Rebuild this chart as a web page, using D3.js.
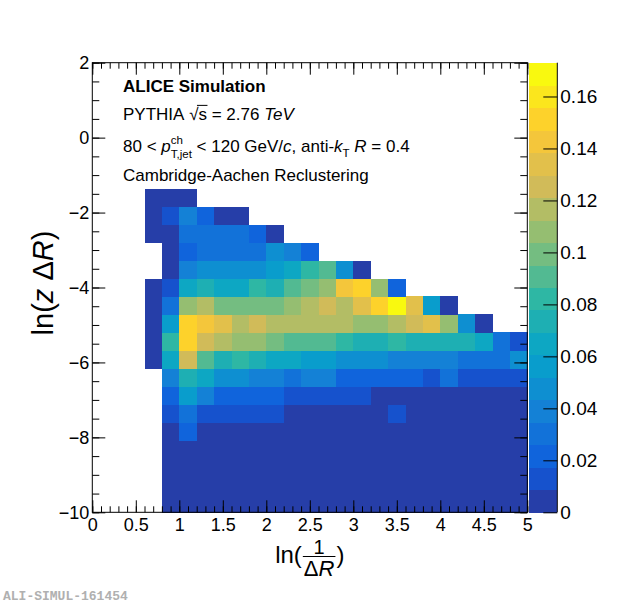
<!DOCTYPE html>
<html><head><meta charset="utf-8">
<script src="https://cdn.jsdelivr.net/npm/d3@7"></script>
<style>
html,body{margin:0;padding:0;background:#fff;}
svg{display:block;font-family:"Liberation Sans",Arial,Helvetica,sans-serif;}
</style></head><body>
<svg id="chart" width="620" height="603"></svg>
<script>
// ---------------- data ----------------
// bin edges of the 25 x 25 histogram
const xEdges = [0,0.2,0.4,0.6,0.8,1.0,1.2,1.4,1.6,1.8,2.0,2.2,2.4,2.6,2.8,3.0,3.2,3.4,3.6,3.8,4.0,4.2,4.4,4.6,4.8,5.0];
const yEdges = [-10,-9.52,-9.04,-8.56,-8.08,-7.6,-7.12,-6.64,-6.16,-5.68,-5.2,-4.72,-4.24,-3.76,-3.28,-2.8,-2.32,-1.84,-1.36,-0.88,-0.4,0.08,0.56,1.04,1.52,2.0];
// bin contents, one row per y bin (bottom row first), 25 x bins per row; 0 = empty
const binContent = [
 [0,0,0,0,.004,.004,.004,.004,.004,.004,.004,.004,.004,.004,.004,.004,.004,.004,.004,.004,.004,.004,.004,.004,.004],
 [0,0,0,0,.004,.004,.004,.004,.004,.004,.004,.004,.004,.004,.004,.004,.004,.004,.004,.004,.004,.004,.004,.004,.004],
 [0,0,0,0,.004,.004,.004,.004,.004,.004,.004,.004,.004,.004,.004,.004,.004,.004,.004,.004,.004,.004,.004,.004,.004],
 [0,0,0,0,.004,.004,.004,.004,.004,.004,.004,.004,.004,.004,.004,.004,.004,.004,.004,.004,.004,.004,.004,.004,.004],
 [0,0,0,0,.004,.022,.004,.004,.004,.004,.004,.004,.004,.004,.004,.004,.004,.004,.004,.004,.004,.004,.004,.004,.004],
 [0,0,0,0,.013,.030,.013,.013,.013,.013,.013,.004,.004,.004,.004,.004,.004,.013,.004,.004,.004,.004,.004,.004,.004],
 [0,0,0,0,.022,.054,.039,.022,.022,.022,.022,.013,.013,.013,.013,.013,.004,.004,.004,.004,.004,.004,.004,.004,.004],
 [0,0,0,0,.039,.074,.065,.048,.048,.039,.039,.030,.039,.039,.022,.022,.022,.022,.022,.013,.030,.013,.013,.013,.013],
 [0,0,0,.004,.065,.126,.091,.074,.082,.074,.065,.065,.056,.056,.048,.048,.048,.039,.039,.039,.039,.030,.030,.030,.048],
 [0,0,0,.004,.082,.152,.126,.117,.108,.108,.100,.091,.091,.091,.082,.074,.074,.082,.074,.074,.074,.074,.065,.030,.013],
 [0,0,0,.004,.056,.152,.143,.134,.117,.126,.117,.117,.117,.117,.117,.108,.108,.117,.126,.134,.108,.048,.004,0,0],
 [0,0,0,.004,.030,.108,.117,.100,.100,.100,.100,.108,.117,.126,.117,.134,.152,.173,.134,.056,.004,0,0,0,0],
 [0,0,0,.004,.013,.065,.074,.065,.065,.082,.074,.091,.100,.108,.143,.152,.108,.022,0,0,0,0,0,0,0],
 [0,0,0,0,.004,.039,.048,.048,.048,.048,.056,.065,.082,.091,.048,.004,0,0,0,0,0,0,0,0,0],
 [0,0,0,0,.004,.022,.030,.030,.030,.030,.048,.039,.022,0,0,0,0,0,0,0,0,0,0,0,0],
 [0,0,0,.004,.004,.030,.030,.030,.030,.022,.004,0,0,0,0,0,0,0,0,0,0,0,0,0,0],
 [0,0,0,.004,.013,.039,.022,.004,.004,0,0,0,0,0,0,0,0,0,0,0,0,0,0,0,0],
 [0,0,0,.004,.004,.004,0,0,0,0,0,0,0,0,0,0,0,0,0,0,0,0,0,0,0]
];
const xTickValues = [0,0.5,1,1.5,2,2.5,3,3.5,4,4.5,5];
const yTickValues = [-10,-8,-6,-4,-2,0,2];
const zTickValues = [0,0.02,0.04,0.06,0.08,0.1,0.12,0.14,0.16];
const nContours = 20;
// ROOT kBird palette stops
const birdStops = [0.0000,0.1250,0.2500,0.3750,0.5000,0.6250,0.7500,0.8750,1.0000];
const birdRed   = [0.2082,0.0592,0.0780,0.0232,0.1802,0.5301,0.8186,0.9956,0.9764];
const birdGreen = [0.1664,0.3599,0.5041,0.6419,0.7178,0.7492,0.7328,0.7862,0.9832];
const birdBlue  = [0.5293,0.8684,0.8385,0.7914,0.6425,0.4662,0.3499,0.1968,0.0539];

// ---------------- layout ----------------
const svg = d3.select("#chart");
const X0 = 92.3, X1 = 527.3, Y0 = 62.7, Y1 = 512.3;
const CB0 = 529.3, CB1 = 557.3;
const tickFont = 18;

const x = d3.scaleLinear().domain([xEdges[0], xEdges[xEdges.length-1]]).range([X0, X1]);
const y = d3.scaleLinear().domain([yEdges[0], yEdges[yEdges.length-1]]).range([Y1, Y0]);

// palette (ROOT CreateGradientColorTable with 255 colours)
function gradient(n){
  const cols = [];
  for (let g = 1; g < birdStops.length; g++){
    const nc = Math.floor(n*birdStops[g]) - Math.floor(n*birdStops[g-1]);
    for (let c = 0; c < nc; c++){
      const f = c/nc;
      cols.push(d3.rgb(
        255*(birdRed[g-1]   + f*(birdRed[g]-birdRed[g-1])),
        255*(birdGreen[g-1] + f*(birdGreen[g]-birdGreen[g-1])),
        255*(birdBlue[g-1]  + f*(birdBlue[g]-birdBlue[g-1]))).formatHex());
    }
  }
  return cols;
}
const pal = gradient(255);
const bandColors = d3.range(nContours).map(k => pal[Math.floor((k+0.99)*pal.length/nContours)]);
const zMax = d3.max(binContent.flat());
const color = d3.scaleQuantize().domain([0, zMax]).range(bandColors);
const z = d3.scaleLinear().domain([0, zMax]).range([Y1, Y0]);

// ---------------- cells ----------------
const cells = [];
binContent.forEach((row, j) => row.forEach((v, i) => { if (v > 0) cells.push({i, j, v}); }));
svg.append("g").attr("shape-rendering","crispEdges")
  .selectAll("rect").data(cells).join("rect")
  .attr("x", d => x(xEdges[d.i]))
  .attr("y", d => y(yEdges[d.j+1]))
  .attr("width", d => x(xEdges[d.i+1]) - x(xEdges[d.i]) + 0.5)
  .attr("height", d => y(yEdges[d.j]) - y(yEdges[d.j+1]) + 0.5)
  .attr("fill", d => color(d.v));

// ---------------- axes ----------------
const fmt = d3.format("~g");
function styleAxis(g){
  g.select(".domain").remove();
  g.selectAll("line").attr("stroke","#000").attr("stroke-width",1);
  g.selectAll("text").attr("font-size", tickFont).attr("font-family","Liberation Sans, Arial, sans-serif").attr("fill","#000");
}
const xMinor = d3.range(0, 5.0001, 0.1);
const yMinor = d3.range(-10, 2.0001, 0.5);
// bottom
svg.append("g").attr("transform",`translate(0,${Y1})`)
  .call(d3.axisBottom(x).tickValues(xTickValues).tickSize(-12).tickPadding(6).tickFormat(fmt)).call(styleAxis);
svg.append("g").attr("transform",`translate(0,${Y1})`)
  .call(d3.axisBottom(x).tickValues(xMinor).tickSize(-6).tickFormat("")).call(styleAxis);
// top
svg.append("g").attr("transform",`translate(0,${Y0})`)
  .call(d3.axisTop(x).tickValues(xTickValues).tickSize(-12).tickFormat("")).call(styleAxis);
svg.append("g").attr("transform",`translate(0,${Y0})`)
  .call(d3.axisTop(x).tickValues(xMinor).tickSize(-6).tickFormat("")).call(styleAxis);
// left
svg.append("g").attr("transform",`translate(${X0},0)`)
  .call(d3.axisLeft(y).tickValues(yTickValues).tickSize(-13).tickPadding(3).tickFormat(fmt)).call(styleAxis);
svg.append("g").attr("transform",`translate(${X0},0)`)
  .call(d3.axisLeft(y).tickValues(yMinor).tickSize(-7).tickFormat("")).call(styleAxis);
// right
svg.append("g").attr("transform",`translate(${X1},0)`)
  .call(d3.axisRight(y).tickValues(yTickValues).tickSize(-13).tickFormat("")).call(styleAxis);
svg.append("g").attr("transform",`translate(${X1},0)`)
  .call(d3.axisRight(y).tickValues(yMinor).tickSize(-7).tickFormat("")).call(styleAxis);

// frame
svg.append("rect").attr("x",X0).attr("y",Y0).attr("width",X1-X0).attr("height",Y1-Y0)
  .attr("fill","none").attr("stroke","#000").attr("stroke-width",1);

// ---------------- colour bar ----------------
svg.append("g").attr("shape-rendering","crispEdges")
  .selectAll("rect").data(bandColors).join("rect")
  .attr("x", CB0).attr("width", CB1-CB0)
  .attr("y", (c,k) => z((k+1)*zMax/nContours))
  .attr("height", (c,k) => z(k*zMax/nContours) - z((k+1)*zMax/nContours) + 0.5)
  .attr("fill", c => c);
svg.append("g").attr("transform",`translate(${CB1},0)`)
  .call(d3.axisRight(z).tickValues(zTickValues).tickSize(-14).tickPadding(3).tickFormat(fmt))
  .call(g => {
    g.select(".domain").attr("stroke","#000").attr("d", `M0,${Y0}V${Y1}`);
    g.selectAll("line").attr("stroke","#000");
    g.selectAll("text").attr("font-size", 19).attr("fill","#000");
  });

// ---------------- rich text helper ----------------
function rich(g, x0, yb, segs, base){
  let cx = x0, stackX = null, stackW = 0;
  segs.forEach(s => {
    const fs = s.fs || base;
    const sx = s.stack === "end" ? stackX : cx;
    const t = g.append("text").attr("x", sx).attr("y", yb + (s.dy || 0))
      .attr("font-size", fs).attr("fill","#000")
      .attr("font-style", s.it ? "italic" : null)
      .attr("font-weight", s.bold ? "bold" : null)
      .text(s.t.replace(/ /g, "\u00A0"));
    const w = t.node().getComputedTextLength();
    if (s.over) g.append("line").attr("x1", sx - 1.5).attr("x2", sx + w + 0.5)
      .attr("y1", yb - fs*0.86).attr("y2", yb - fs*0.86).attr("stroke","#000").attr("stroke-width",1);
    if (s.stack === "start"){ stackX = sx; stackW = w; }
    else if (s.stack === "end"){ cx = stackX + Math.max(stackW, w); }
    else cx = sx + w;
  });
  return cx - x0;
}

const lx = 123;
const leg = svg.append("g");
rich(leg, lx, 92, [{t:"ALICE Simulation", bold:true}], 17);
rich(leg, lx, 120, [{t:"PYTHIA "},{t:"\u221A", fs:17},{t:"s", over:true},{t:" = 2.76 "},{t:"TeV", it:true}], 17);
rich(leg, lx, 152, [
  {t:"80 < "},{t:"p", it:true},
  {t:"ch", fs:11.5, dy:-8.5, stack:"start"},{t:"T,jet", fs:11.5, dy:5.5, stack:"end"},
  {t:" < 120 GeV/"},{t:"c", it:true},{t:", anti-"},{t:"k", it:true},
  {t:"T", fs:11.5, dy:4.5},{t:" "},{t:"R", it:true},{t:" = 0.4"}], 17);
rich(leg, lx, 181, [{t:"Cambridge-Aachen Reclustering"}], 17);

// ---------------- axis titles ----------------
// y title
const yt = svg.append("g");
const ytw = rich(yt, 0, 0, [{t:"ln("},{t:"z", it:true},{t:" "},{t:"\u0394"},{t:"R", it:true},{t:")"}], 29);
yt.attr("transform", `translate(53,283) rotate(-90) translate(${-ytw/2},0)`);

// x title with fraction
const xt = svg.append("g");
const xb = 563;
const t1 = xt.append("text").attr("x",0).attr("y",xb).attr("font-size",24).text("ln(");
const w1 = t1.node().getComputedTextLength();
const num = xt.append("text").attr("y", xb-9).attr("font-size",20).attr("text-anchor","middle").text("1");
const den = xt.append("text").attr("y", xb+13).attr("font-size",22).attr("text-anchor","middle");
den.append("tspan").text("\u0394");
den.append("tspan").attr("font-style","italic").text("R");
const wd = Math.max(num.node().getComputedTextLength(), den.node().getComputedTextLength()) + 2;
const fc = w1 + wd/2 + 1;
num.attr("x", fc); den.attr("x", fc);
xt.append("line").attr("x1", w1+1).attr("x2", w1+1+wd).attr("y1", xb-6.5).attr("y2", xb-6.5).attr("stroke","#000").attr("stroke-width",1.2);
const t3 = xt.append("text").attr("x", w1+wd+2).attr("y", xb).attr("font-size",24).text(")");
const xtw = w1 + wd + 2 + t3.node().getComputedTextLength();
xt.attr("transform", `translate(${(X0+X1)/2 - xtw/2},0)`);

// ---------------- figure id ----------------
svg.append("text").attr("x",3).attr("y",600)
  .attr("font-family","Liberation Mono, Courier New, monospace").attr("font-weight","bold")
  .attr("font-size",13).attr("fill","#b0b0b0").text("ALI-SIMUL-161454");
</script>
</body></html>
